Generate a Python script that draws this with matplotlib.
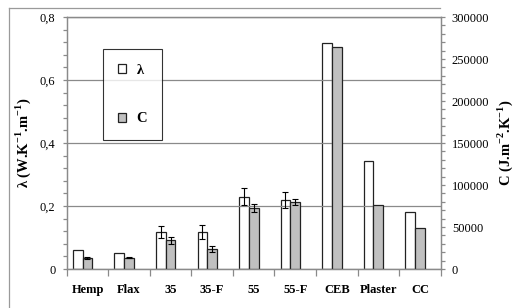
import numpy as np
import matplotlib
matplotlib.use('Agg')
import matplotlib.pyplot as plt
from matplotlib.patches import Patch
from matplotlib.lines import Line2D
from matplotlib.ticker import MultipleLocator, FixedLocator, FuncFormatter

plt.rcParams['font.family'] = ['Liberation Serif', 'DejaVu Serif']
plt.rcParams['mathtext.fontset'] = 'custom'
plt.rcParams['mathtext.rm'] = 'Liberation Serif'
plt.rcParams['mathtext.bf'] = 'Liberation Serif:bold'

categories = ['Hemp', 'Flax', '35', '35-F', '55', '55-F', 'CEB', 'Plaster', 'CC']
lam = [0.059, 0.050, 0.117, 0.117, 0.230, 0.219, 0.718, 0.344, 0.182]
lam_err = [0, 0, 0.020, 0.023, 0.027, 0.026, 0, 0, 0]
heat_cap = [13500, 13500, 34000, 23800, 72300, 79400, 264300, 75800, 49200]
heat_cap_err = [1000, 600, 3700, 3700, 4500, 3500, 0, 0, 0]

AXIS_GREY = '#8a8a8a'
BAR_GREY = '#c0c0c0'

fig = plt.figure(figsize=(5.14, 3.08), dpi=100)
ax = fig.add_axes([0.1298, 0.1266, 0.7276, 0.8182])
ax2 = ax.twinx()

x = np.arange(len(categories))
w = 0.235

# white bars (lambda) on left axis, grey bars (C) on right axis
ax.bar(x - w, lam, width=w, color='white', edgecolor='#222222', linewidth=0.9, zorder=1)
ax2.bar(x, heat_cap, width=w, color=BAR_GREY, edgecolor='#222222', linewidth=0.9, zorder=1)

ekw = dict(fmt='none', ecolor='black', elinewidth=0.8, capsize=2.5, capthick=0.8, zorder=3)
idx = [i for i, e in enumerate(lam_err) if e > 0]
ax.errorbar(x[idx] - w, [lam[i] for i in idx], yerr=[lam_err[i] for i in idx], **ekw)
idx = [i for i, e in enumerate(heat_cap_err) if e > 0]
ax2.errorbar(x[idx], [heat_cap[i] for i in idx], yerr=[heat_cap_err[i] for i in idx], **ekw)

ax.set_xlim(-0.5, len(categories) - 0.5)
ax.set_ylim(0, 0.8)
ax2.set_ylim(0, 300000)

# grid
ax.set_axisbelow(False)
ax.yaxis.grid(True, color=AXIS_GREY, linewidth=0.9)
ax.yaxis.set_major_locator(MultipleLocator(0.2))
ax.yaxis.set_minor_locator(MultipleLocator(0.04))
ax.yaxis.set_major_formatter(FuncFormatter(lambda v, p: '0' if v == 0 else f'{v:.1f}'.replace('.', ',')))
ax2.yaxis.set_major_locator(MultipleLocator(50000))
ax2.yaxis.set_minor_locator(MultipleLocator(10000))

ax.set_xticks(x)
ax.set_xticklabels(categories, fontweight='bold', fontsize=9)
ax.xaxis.set_minor_locator(FixedLocator(np.arange(len(categories) + 1) - 0.5))
ax.tick_params(axis='x', which='major', length=0, pad=11)
ax.tick_params(axis='x', which='minor', length=5, color=AXIS_GREY, width=0.9)
ax.tick_params(axis='y', which='both', length=3, color=AXIS_GREY, width=0.9, labelsize=9, pad=5)
ax2.tick_params(axis='y', which='both', length=3, color=AXIS_GREY, width=0.9, labelsize=9, pad=5)

for a in (ax, ax2):
    for s in a.spines.values():
        s.set_color(AXIS_GREY)
        s.set_linewidth(0.9)

ax.set_ylabel(r'λ (W.K$^{\mathbf{-1}}$.m$^{\mathbf{-1}}$)', fontweight='bold', fontsize=10.5, labelpad=5)
ax2.set_ylabel(r'C (J.m$^{\mathbf{-2}}$.K$^{\mathbf{-1}}$)', fontweight='bold', fontsize=10.5,
               rotation=90, labelpad=4)

handles = [Patch(facecolor='white', edgecolor='#222222', linewidth=0.9, label='λ'),
           Patch(facecolor=BAR_GREY, edgecolor='#222222', linewidth=0.9, label='C')]
leg = ax2.legend(handles=handles, loc='upper left', bbox_to_anchor=(0.097, 0.873),
                 borderaxespad=0, prop={'weight': 'bold', 'size': 10.5},
                 handlelength=0.6, handleheight=0.6, handletextpad=0.7,
                 labelspacing=2.45, borderpad=1.0, fancybox=False)
leg.get_frame().set_edgecolor('black')
leg.get_frame().set_linewidth(0.8)

# outer chart frame
fig.add_artist(Line2D([9 / 514, 440 / 514], [1 - 8.3 / 308] * 2, color='#9a9a9a', lw=0.9))
fig.add_artist(Line2D([9 / 514] * 2, [0, 1 - 8.3 / 308], color='#9a9a9a', lw=0.9))

fig.savefig('out.png', dpi=100, facecolor='white')
